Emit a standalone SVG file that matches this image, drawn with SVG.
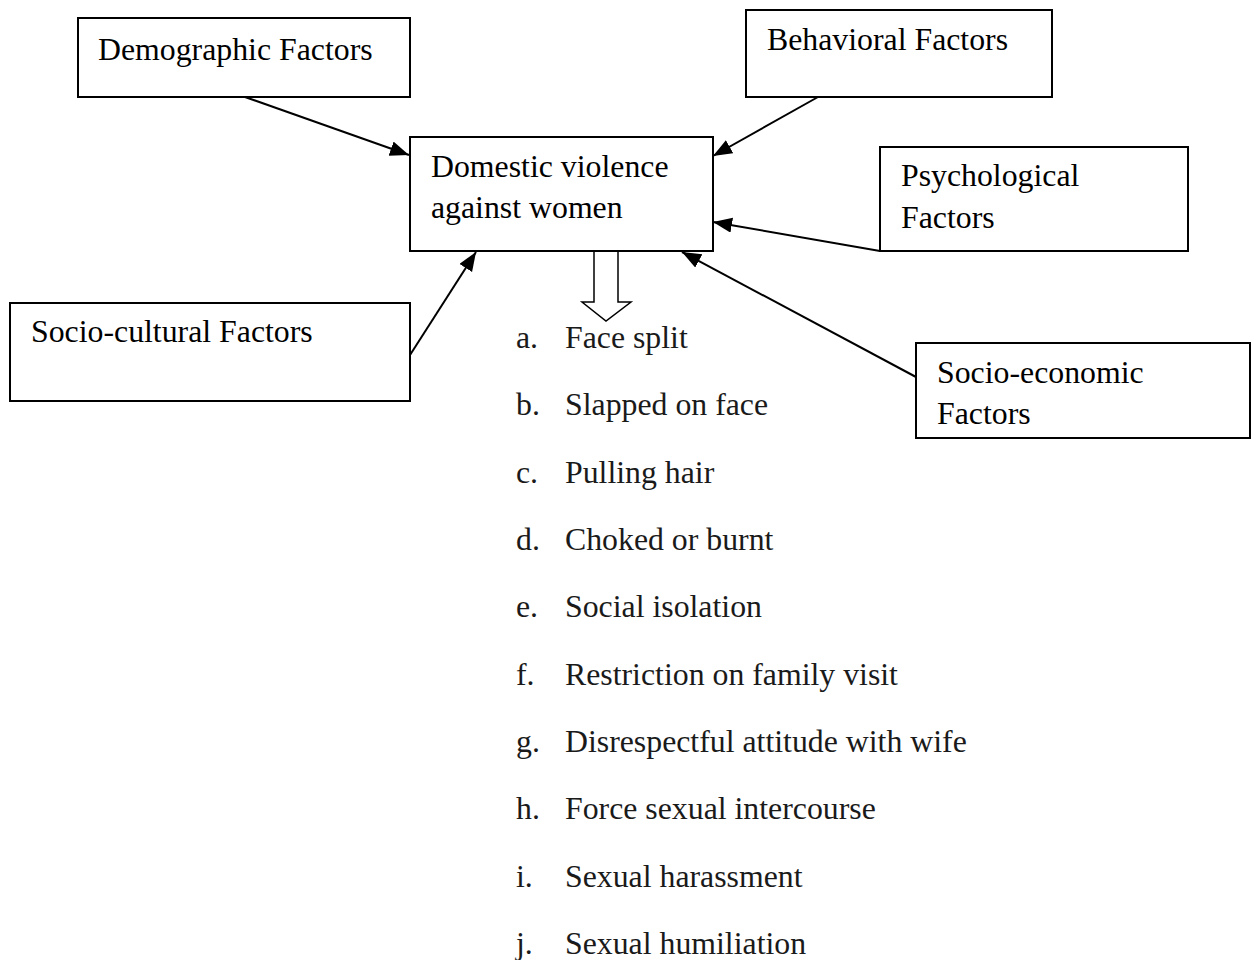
<svg xmlns="http://www.w3.org/2000/svg" width="1256" height="960" viewBox="0 0 1256 960">
<style>
.box{fill:#fff;stroke:#000;stroke-width:2}
.t{font-family:"Liberation Serif","Times New Roman",serif;font-size:31.8px;fill:#000}
.li{font-family:"Liberation Serif","Times New Roman",serif;font-size:31.8px;fill:#1a1a1a}
.c{stroke:#000;stroke-width:2;fill:none;marker-end:url(#ah)}
</style>
<defs>
<marker id="ah" markerUnits="userSpaceOnUse" markerWidth="22" markerHeight="16" refX="19" refY="7.5" orient="auto">
<path d="M0,0 L19,7.5 L0,15 Z" fill="#000"/>
</marker>
</defs>
<rect width="1256" height="960" fill="#fff"/>
<g id="connectors">
<line class="c" x1="245" y1="97" x2="409" y2="155"/>
<line class="c" x1="818" y1="97" x2="713" y2="156"/>
<line class="c" x1="880" y1="251" x2="713" y2="222"/>
<line class="c" x1="410" y1="355" x2="476" y2="252"/>
<line class="c" x1="916" y1="377" x2="682" y2="252"/>
<path d="M594,251 L594,302 L582,302 L606,321 L631,302 L618,302 L618,251" fill="#fff" stroke="#000" stroke-width="1.5"/>
</g>
<g id="demographic">
<rect class="box" x="78" y="18" width="332" height="79"/>
<text class="t" x="98" y="60">Demographic Factors</text>
</g>
<g id="behavioral">
<rect class="box" x="746" y="10" width="306" height="87"/>
<text class="t" x="767" y="50">Behavioral Factors</text>
</g>
<g id="central">
<rect class="box" x="410" y="137" width="303" height="114"/>
<text class="t" x="431" y="177">Domestic violence</text>
<text class="t" x="431" y="218">against women</text>
</g>
<g id="psychological">
<rect class="box" x="880" y="147" width="308" height="104"/>
<text class="t" x="901" y="186">Psychological</text>
<text class="t" x="901" y="228">Factors</text>
</g>
<g id="sociocultural">
<rect class="box" x="10" y="303" width="400" height="98"/>
<text class="t" x="31" y="342">Socio-cultural Factors</text>
</g>
<g id="socioeconomic">
<rect class="box" x="916" y="343" width="334" height="95"/>
<text class="t" x="937" y="383">Socio-economic</text>
<text class="t" x="937" y="424">Factors</text>
</g>
<g id="list">
<text class="li" x="516" y="348">a.</text><text class="li" x="565" y="348">Face split</text>
<text class="li" x="516" y="415">b.</text><text class="li" x="565" y="415">Slapped on face</text>
<text class="li" x="516" y="483">c.</text><text class="li" x="565" y="483">Pulling hair</text>
<text class="li" x="516" y="550">d.</text><text class="li" x="565" y="550">Choked or burnt</text>
<text class="li" x="516" y="617">e.</text><text class="li" x="565" y="617">Social isolation</text>
<text class="li" x="516" y="685">f.</text><text class="li" x="565" y="685">Restriction on family visit</text>
<text class="li" x="516" y="752">g.</text><text class="li" x="565" y="752">Disrespectful attitude with wife</text>
<text class="li" x="516" y="819">h.</text><text class="li" x="565" y="819">Force sexual intercourse</text>
<text class="li" x="516" y="887">i.</text><text class="li" x="565" y="887">Sexual harassment</text>
<text class="li" x="516" y="954">j.</text><text class="li" x="565" y="954">Sexual humiliation</text>
</g>
</svg>
